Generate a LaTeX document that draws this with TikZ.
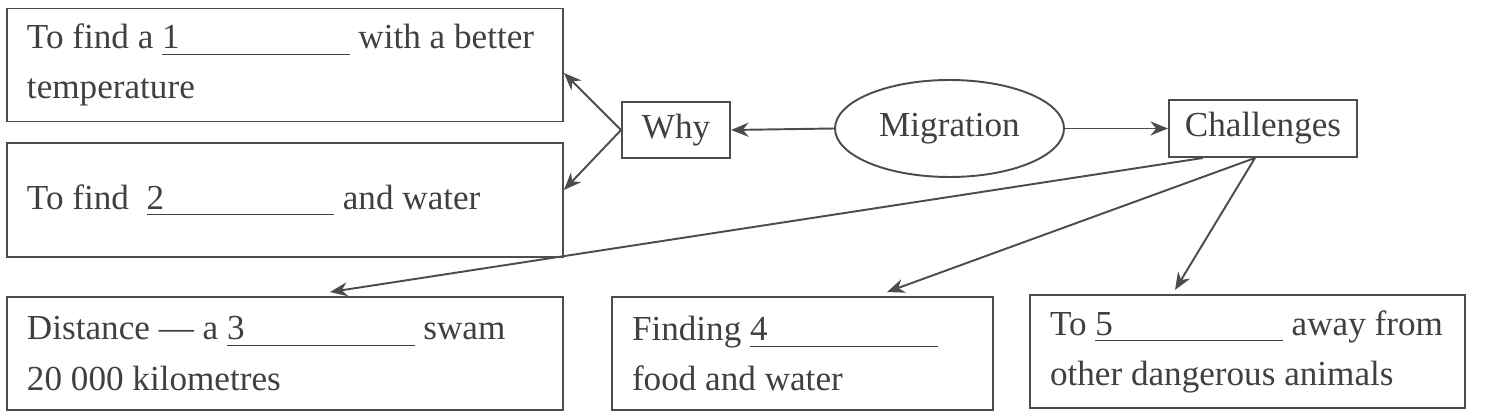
\documentclass[tikz,border=0pt]{standalone}
\usepackage{fontspec}
\setmainfont{Liberation Serif}
\usepackage{tikz}
\usetikzlibrary{positioning}
\usetikzlibrary{arrows.meta}
\usetikzlibrary{shapes.geometric}
\newcommand{\blankno}[1]{\rlap{\rule[-3.5pt]{3.75cm}{0.6pt}}\makebox[3.75cm][l]{#1}}
\tikzset{
    card/.style={draw=black!70, line width=1.1pt, text=black!75, align=flush left,
                 inner xsep=0.4cm, minimum height=2.26cm,
                 font=\fontsize{20pt}{28.5pt}\selectfont,
                 execute at begin node={\spaceskip=0pt\xspaceskip=0pt\relax}}, % box with text
    word/.style={draw=black!70, line width=1.1pt, text=black!75,
                 font=\fontsize{20pt}{24pt}\selectfont}, % small box in the middle
    link/.style={draw=black!70, line width=1.1pt, -{Stealth[length=10pt, width=8pt]}} % connector
}

\begin{document}
\begin{tikzpicture}
          \useasboundingbox (0, 0) rectangle (29.72, -8.32);

          % --- 1. middle row ---
          \node[word, ellipse, minimum width=4.58cm, minimum height=1.94cm, inner sep=0pt] (mig) at (18.99, -2.57) {Migration};
          \node[word, minimum width=2.16cm, minimum height=1.12cm] (why) at (13.52, -2.60) {Why};
          \node[word, minimum width=3.76cm, minimum height=1.14cm] (chal) at (25.26, -2.57) {Challenges};

          % --- 2. boxes on the left ---
          \node[card, text width=10.32cm] (reason1) at (5.70, -1.30) {To find a \blankno{1} with a better\\temperature};
          \node[card, text width=10.32cm, minimum height=2.28cm] (reason2) at (5.70, -4.00) {To find\enspace\blankno{2} and water};

          % --- 3. boxes at the bottom ---
          \node[card, text width=10.32cm] (hard1) at (5.70, -7.07) {Distance \textemdash\ a \blankno{3} swam\\20~000 kilometres};
          \node[card, text width=6.82cm] (hard2) at (16.05, -7.07) {Finding \blankno{4}\\food and water};
          \node[card, text width=7.90cm] (hard3) at (24.95, -7.03) {To \blankno{5} away from\\other dangerous animals};

          % --- 4. connectors ---
          \draw[link] (mig.west) -- (why.east);
          \draw[link] (mig.east) -- (chal.west);
          \draw[link] (why.west) -- ([yshift=-0.16cm]reason1.east);
          \draw[link] (why.west) -- ([yshift=0.2cm]reason2.east);

          \foreach \from / \to / \shift in {
              -1.2/hard1/0.9,
              -0.16/hard2/1.69,
              -0.16/hard3/-1.45
          } {
              \draw[link] ([xshift=\from cm]chal.south) -- ([xshift=\shift cm, yshift=0.08cm]\to.north);
          }

      \end{tikzpicture}
\end{document}
